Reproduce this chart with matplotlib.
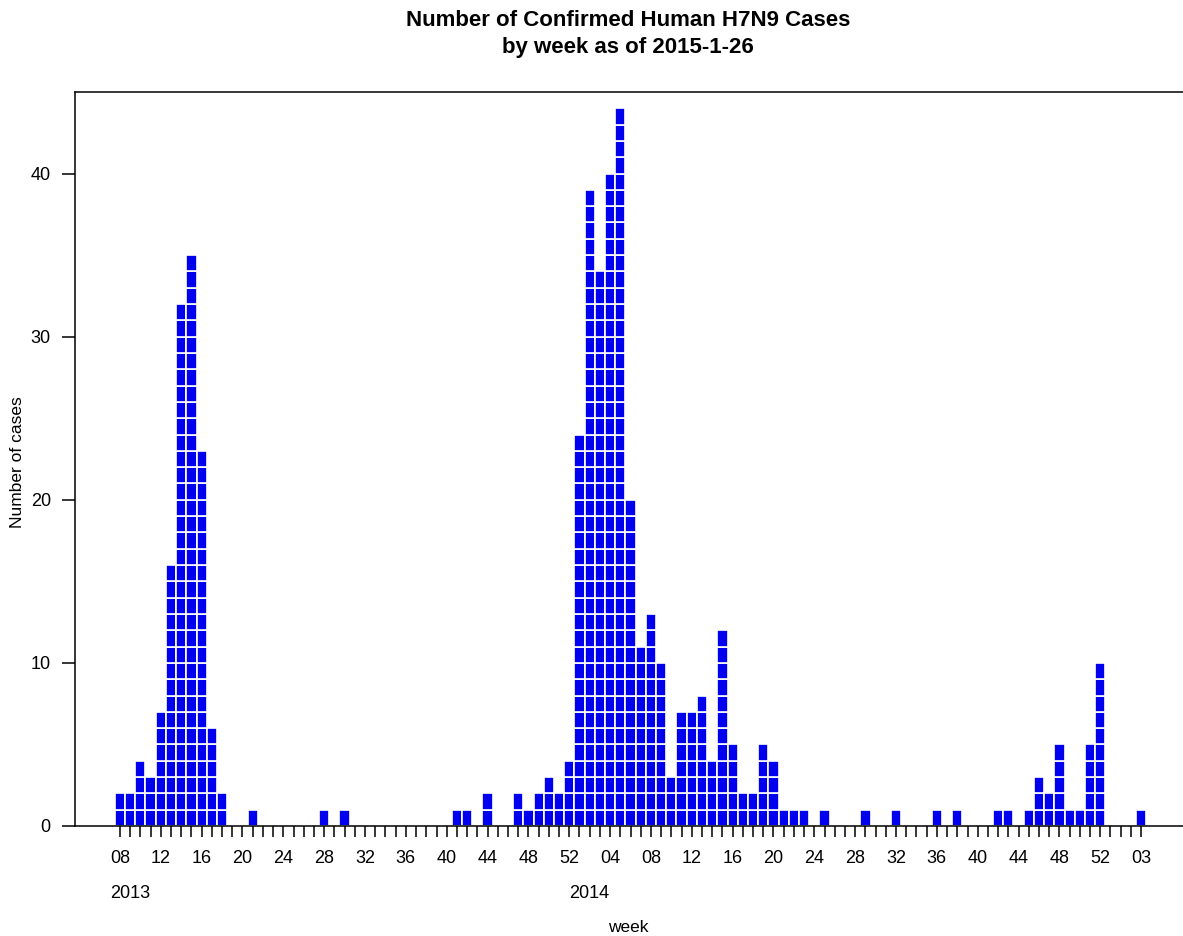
import numpy as np
import matplotlib
matplotlib.use("Agg")
import matplotlib.pyplot as plt

plt.rcParams['font.family'] = ['Liberation Sans', 'DejaVu Sans']

# weekly confirmed cases (MMWR weeks)
cases_2013 = [2, 2, 4, 3, 7, 16, 32, 35, 23, 6,      # wk08-17
              2, 0, 0, 1, 0, 0, 0, 0, 0, 0,          # wk18-27
              1, 0, 1, 0, 0, 0, 0, 0, 0, 0,          # wk28-37
              0, 0, 0, 1, 1, 0, 2, 0, 0, 2,          # wk38-47
              1, 2, 3, 2, 4]                         # wk48-52
cases_2014 = [24, 39, 34, 40, 44, 20, 11, 13, 10, 3, # wk01-10
              7, 7, 8, 4, 12, 5, 2, 2, 5, 4,         # wk11-20
              1, 1, 1, 0, 1, 0, 0, 0, 1, 0,          # wk21-30
              0, 1, 0, 0, 0, 1, 0, 1, 0, 0,          # wk31-40
              0, 1, 1, 0, 1, 3, 2, 5, 1, 1,          # wk41-50
              5, 10, 0]                              # wk51-53
cases_2015 = [0, 0, 1]                               # wk01-03

tick_labels = ["08", "12", "16", "20", "24", "28", "32", "36", "40", "44", "48", "52",
               "04", "08", "12", "16", "20", "24", "28", "32", "36", "40", "44", "48", "52",
               "03"]
years = ["2013", "2014"]

counts = np.array(cases_2013 + cases_2014 + cases_2015)
x = np.arange(len(counts))
year_start = [0, len(cases_2013)]

BLUE = "#0000EE"

fig = plt.figure(figsize=(11.83, 9.36), dpi=100)
ax = fig.add_axes([75 / 1183, 1 - 826 / 936, 1 - 75 / 1183, (826 - 92) / 936])

# one white-bordered square per case
for level in range(counts.max()):
    m = counts > level
    ax.bar(x[m], 1, bottom=level, width=1.0, color=BLUE,
           edgecolor="white", linewidth=1.2, zorder=1)

ax.set_xlim(-4.4, 104.1)
ax.set_ylim(0, 45)

ax.spines['right'].set_visible(False)
for s in ['left', 'top', 'bottom']:
    ax.spines[s].set_linewidth(1.1)

ax.set_xticks(x[::4])
ax.set_xticklabels(tick_labels)
ax.set_xticks(x, minor=True)
ax.tick_params(axis='x', which='both', direction='out', length=8, width=1.1,
               pad=9.5, labelsize=13)
ax.set_yticks([0, 10, 20, 30, 40])
ax.tick_params(axis='y', direction='out', length=9.4, width=1.1, pad=8,
               labelsize=13)

trans = ax.get_xaxis_transform()
for yr, st in zip(years, year_start):
    ax.text(x[st] + 1, -0.0913, yr, transform=trans, ha='center', va='center',
            fontsize=13)

fig.text(18 / 1183, 1 - 462 / 936, "Number of cases", rotation=90,
         ha='center', va='center', fontsize=12.5)
fig.text(628 / 1183, 1 - 928 / 936, "week", ha='center', va='center', fontsize=12.5)

fig.text(628 / 1183, 1 - 20 / 936, "Number of Confirmed Human H7N9 Cases",
         ha='center', va='center', fontsize=16, fontweight='bold')
fig.text(628 / 1183, 1 - 48 / 936, "by week as of 2015-1-26",
         ha='center', va='center', fontsize=16, fontweight='bold')

fig.savefig("out.png", dpi=100)
